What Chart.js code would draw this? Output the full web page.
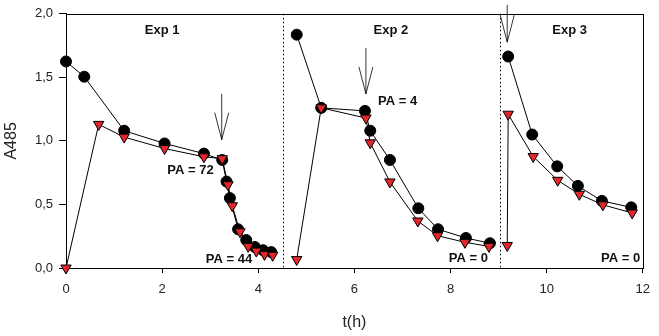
<!DOCTYPE html>
<html>
<head>
<meta charset="utf-8">
<script src="https://cdn.jsdelivr.net/npm/chart.js@4/dist/chart.umd.min.js"></script>
<style>
  html, body { margin: 0; padding: 0; background: #fff; }
  #wrap { width: 659px; height: 336px; }
</style>
</head>
<body>
<div id="wrap"><canvas id="myChart" width="659" height="336"></canvas></div>
<script>
// Exp 1
var exp1_t_circ = [0, 0.38, 1.21, 2.05, 2.87, 3.25, 3.34, 3.41, 3.58, 3.75, 3.93, 4.10, 4.27];
var exp1_a_circ = [1.625, 1.505, 1.08, 0.98, 0.90, 0.85, 0.68, 0.55, 0.305, 0.22, 0.165, 0.14, 0.125];
var exp1_t_tri = [0, 0.68, 1.21, 2.05, 2.87, 3.25, 3.37, 3.46, 3.62, 3.79, 3.96, 4.13, 4.30];
var exp1_a_tri = [0, 1.13, 1.03, 0.94, 0.875, 0.86, 0.655, 0.49, 0.285, 0.17, 0.133, 0.107, 0.10];

// Exp 2
var exp2_t_circ = [4.80, 5.31, 6.22, 6.33, 6.74, 7.33, 7.74, 8.32, 8.82];
var exp2_a_circ = [1.836, 1.26, 1.236, 1.08, 0.85, 0.47, 0.305, 0.236, 0.195];
var exp2_t_tri = [4.80, 5.31, 6.24, 6.33, 6.74, 7.32, 7.73, 8.30, 8.80];
var exp2_a_tri = [0.067, 1.26, 1.18, 0.985, 0.677, 0.37, 0.254, 0.202, 0.17];

// Exp 3
var exp3_t_circ = [9.20, 9.70, 10.22, 10.65, 11.15, 11.76];
var exp3_a_circ = [1.664, 1.05, 0.80, 0.646, 0.528, 0.477];
var exp3_t_tri = [9.18, 9.20, 9.72, 10.23, 10.68, 11.17, 11.78];
var exp3_a_tri = [0.177, 1.21, 0.877, 0.69, 0.58, 0.497, 0.433];

// separators between experiments, arrows (addition time) and labels
var separators = [4.51, 9.02];
var arrows = [[3.24, 1.37, 1.01], [6.24, 1.73, 1.37], [9.18, 2.07, 1.777]];
var labels = [
  ["Exp 1", 2.0, 1.87], ["Exp 2", 6.76, 1.87], ["Exp 3", 10.48, 1.87],
  ["PA = 72", 2.59, 0.77], ["PA = 44", 3.39, 0.07], ["PA = 4", 6.90, 1.31],
  ["PA = 0", 8.37, 0.077], ["PA = 0", 11.54, 0.077]
];

var xTicks = [0, 2, 4, 6, 8, 10, 12];

function pts(t, a) {
  var out = [];
  for (var i = 0; i < t.length; i++) out.push({ x: t[i], y: a[i] });
  return out;
}

function circDs(t, a) {
  return {
    data: pts(t, a),
    showLine: true,
    clip: false,
    borderColor: "#000",
    borderWidth: 1,
    pointStyle: "circle",
    pointRadius: 5.5,
    pointHoverRadius: 5.5,
    pointBackgroundColor: "#000",
    pointBorderColor: "#000",
    order: 2
  };
}

function triDs(t, a) {
  return {
    data: pts(t, a),
    showLine: true,
    clip: false,
    borderColor: "#000",
    borderWidth: 1,
    pointStyle: "triangle",
    rotation: 180,
    pointRadius: 6,
    pointHoverRadius: 6,
    pointBackgroundColor: "#e3262a",
    pointBorderColor: "#000",
    pointBorderWidth: 1,
    order: 1
  };
}

var extras = {
  id: "extras",
  beforeDatasetsDraw: function(chart) {
    var ctx = chart.ctx, xs = chart.scales.x, ys = chart.scales.y, ca = chart.chartArea;
    ctx.save();
    // dotted separators
    ctx.strokeStyle = "#000";
    ctx.lineWidth = 1;
    ctx.setLineDash([1.5, 2.5]);
    separators.forEach(function(s) {
      var px = Math.round(xs.getPixelForValue(s)) + 0.5;
      ctx.beginPath();
      ctx.moveTo(px, ca.top);
      ctx.lineTo(px, ca.bottom);
      ctx.stroke();
    });
    ctx.restore();
    // frame
    ctx.save();
    ctx.strokeStyle = "#000";
    ctx.lineWidth = 1;
    ctx.strokeRect(Math.round(ca.left) + 0.5, Math.round(ca.top) + 0.5,
      Math.round(ca.right - ca.left), Math.round(ca.bottom - ca.top));
    ctx.restore();
  },
  afterDraw: function(chart) {
    var ctx = chart.ctx, xs = chart.scales.x, ys = chart.scales.y;
    ctx.save();
    // arrows
    ctx.strokeStyle = "#000";
    ctx.lineWidth = 0.8;
    arrows.forEach(function(a) {
      var px = xs.getPixelForValue(a[0]);
      var y0 = Math.max(0, ys.getPixelForValue(a[1]));
      var y1 = ys.getPixelForValue(a[2]);
      ctx.beginPath();
      ctx.moveTo(px, y0);
      ctx.lineTo(px, y1);
      ctx.moveTo(px - 7, y1 - 27);
      ctx.lineTo(px, y1);
      ctx.lineTo(px + 7, y1 - 27);
      ctx.stroke();
    });
    // labels
    ctx.fillStyle = "#111";
    ctx.font = "bold 13px 'Liberation Sans', Arial, sans-serif";
    ctx.textAlign = "center";
    ctx.textBaseline = "middle";
    labels.forEach(function(l) {
      ctx.fillText(l[0], xs.getPixelForValue(l[1]), ys.getPixelForValue(l[2]));
    });
    ctx.restore();
  }
};

var ctx = document.getElementById("myChart").getContext("2d");
var chart = new Chart(ctx, {
  type: "scatter",
  data: {
    datasets: [
      circDs(exp1_t_circ, exp1_a_circ),
      triDs(exp1_t_tri, exp1_a_tri),
      circDs(exp2_t_circ, exp2_a_circ),
      triDs(exp2_t_tri, exp2_a_tri),
      circDs(exp3_t_circ, exp3_a_circ),
      triDs(exp3_t_tri, exp3_a_tri)
    ]
  },
  options: {
    responsive: false,
    animation: false,
    events: [],
    layout: { padding: { left: 0, right: 13, top: 8, bottom: 0 } },
    plugins: { legend: { display: false }, tooltip: { enabled: false } },
    scales: {
      x: {
        type: "linear",
        min: 0,
        max: 12,
        afterFit: function(s) { s.height = 68; },
        afterBuildTicks: function(s) {
          s.ticks = xTicks.map(function(v) { return { value: v }; });
        },
        grid: { drawOnChartArea: false, drawTicks: true, tickLength: 5, color: "#000" },
        border: { display: true, color: "#000" },
        ticks: {
          color: "#222",
          padding: 9,
          maxRotation: 0,
          font: { family: "'Liberation Sans', Arial, sans-serif", size: 13 }
        },
        title: {
          display: true,
          text: "t(h)",
          color: "#222",
          padding: { top: 0, bottom: 4 },
          font: { family: "'Liberation Sans', Arial, sans-serif", size: 16 }
        }
      },
      y: {
        type: "linear",
        min: 0,
        max: 2,
        afterFit: function(s) { s.width = 66; },
        grid: { drawOnChartArea: false, drawTicks: true, tickLength: 7, color: "#000" },
        border: { display: true, color: "#000" },
        ticks: {
          stepSize: 0.5,
          color: "#222",
          padding: 6,
          font: { family: "'Liberation Sans', Arial, sans-serif", size: 13 },
          callback: function(v) { return v.toFixed(1).replace(".", ","); }
        },
        title: {
          display: true,
          text: "A485",
          color: "#222",
          padding: { top: 2, bottom: 0 },
          font: { family: "'Liberation Sans', Arial, sans-serif", size: 16 }
        }
      }
    }
  },
  plugins: [extras]
});
</script>
</body>
</html>
